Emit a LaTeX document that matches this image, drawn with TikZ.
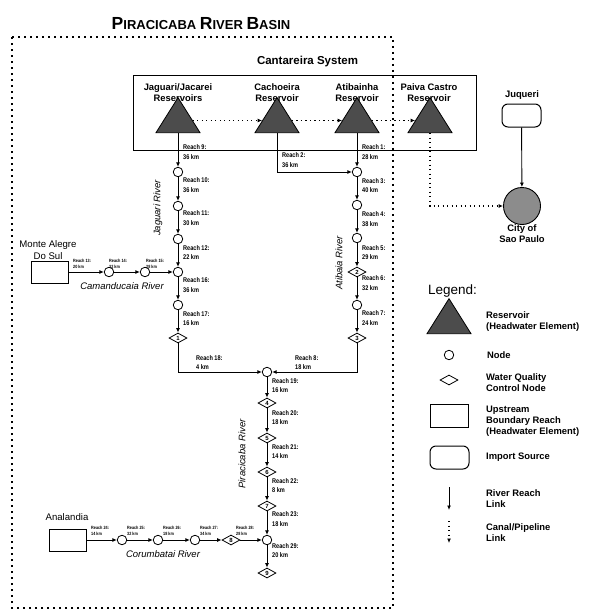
\documentclass[tikz,border=0pt]{standalone}
\usepackage{fontspec}
\setmainfont{Liberation Sans}
\newfontfamily\narrowsans[FakeStretch=0.82]{Liberation Sans}
\usetikzlibrary{shapes.geometric,arrows.meta}
\begin{document}
\begin{tikzpicture}[x=1pt,y=-1pt,
 river/.style={line width=0.9pt,-{Latex[length=4.5pt,width=4pt]}},
 canal/.style={line width=1.1pt,dash pattern=on 1.1pt off 3.4pt,-{Latex[length=4.5pt,width=4pt]}},
 basin/.style={line width=1.3pt,dash pattern=on 1.6pt off 4.4pt},
 res/.style={isosceles triangle,isosceles triangle stretches,shape border rotate=90,minimum width=44pt,minimum height=35pt,inner sep=0pt,draw=black,line width=0.8pt,fill=black!70},
 nd/.style={circle,draw,line width=0.8pt,fill=white,minimum size=9.5pt,inner sep=0pt},
 wq/.style={diamond,draw,line width=0.8pt,fill=white,minimum width=18pt,minimum height=10pt,inner sep=0pt,font=\fontsize{6}{6}\selectfont\bfseries},
 ub/.style={rectangle,draw,line width=1pt,minimum width=37pt,minimum height=22pt,inner sep=0pt},
 imp/.style={rectangle,rounded corners=6pt,draw,line width=1pt,minimum width=39pt,minimum height=23pt,inner sep=0pt},
 rlab/.style={anchor=west,align=left,inner sep=0pt,font=\narrowsans\fontsize{6.8}{9.5}\selectfont\bfseries},
 tlab/.style={anchor=west,align=left,inner sep=0pt,font=\narrowsans\fontsize{4.6}{6}\selectfont\bfseries},
 nlab/.style={align=center,inner sep=0pt,font=\fontsize{9.4}{11}\selectfont\bfseries},
 plab/.style={align=center,inner sep=0pt,font=\fontsize{9.6}{12}\selectfont},
 rname/.style={inner sep=0pt,font=\fontsize{9.5}{11}\selectfont\itshape},
 leg/.style={anchor=west,align=left,inner sep=0pt,font=\fontsize{9.4}{11}\selectfont\bfseries},
]
\useasboundingbox[fill=white] (0,0) rectangle (590,610);

% basin border
\draw[basin] (12,37) -- (393,37) -- (393,608) -- (12,608) -- cycle;
\node[inner sep=0pt,font=\bfseries] (title) at (201,24) {{\fontsize{17.5}{20}\selectfont P}{\fontsize{13}{15}\selectfont IRACICABA }{\fontsize{17.5}{20}\selectfont R}{\fontsize{13}{15}\selectfont IVER }{\fontsize{17.5}{20}\selectfont B}{\fontsize{13}{15}\selectfont ASIN}};

% Cantareira system
\node[inner sep=0pt,font=\fontsize{11.5}{13}\selectfont\bfseries] (cant) at (307.5,62) {Cantareira System};
\draw[line width=0.8pt] (133,75) rectangle (476,150);

\node[nlab] (ljag) at (178,92.5) {Jaguari/Jacarei\\Reservoirs};
\node[nlab] (lcach) at (277,92.5) {Cachoeira\\Reservoir};
\node[nlab] (latib) at (357,92.5) {Atibainha\\Reservoir};
\node[nlab] (lpaiva) at (429,92.5) {Paiva Castro\\Reservoir};

\node[res] (jag) at (178,120.5) {};
\node[res] (cach) at (277,120.5) {};
\node[res] (atib) at (357,120.5) {};
\node[res] (paiva) at (430,120.5) {};
\draw[canal] (jag) -- (cach);
\draw[canal] (cach) -- (atib);
\draw[canal] (atib) -- (paiva);

% Juqueri and City of Sao Paulo
\node[nlab] (ljuq) at (522,95) {Juqueri};
\node[imp] (juq) at (521.5,115.5) {};
\node[circle,draw,line width=0.9pt,fill=black!45,minimum size=37pt,inner sep=0pt] (city) at (522,206) {};
\node[nlab] (lcity) at (522,233.5) {City of\\Sao Paulo};
\draw[river] (juq) -- (city);
\draw[canal] (paiva) |- (city);

% Jaguari River
\node[nd] (j1) at (178,172) {};
\node[nd] (j2) at (178,206) {};
\node[nd] (j3) at (178,239) {};
\node[nd] (jc) at (178,272) {};
\node[nd] (j4) at (178,305) {};
\node[wq] (d1) at (178,338) {1};

% Camanducaia River
\node[plab] (lmas) at (48,250) {Monte Alegre\\Do Sul};
\node[ub] (mas) at (49.5,272) {};
\node[nd] (c1) at (109,272) {};
\node[nd] (c2) at (145,272) {};

% Atibaia River
\node[nd] (a1) at (357,172) {};
\node[nd] (a2) at (357,205) {};
\node[nd] (a3) at (357,238) {};
\node[wq] (d2) at (357,272) {2};
\node[nd] (a4) at (357,305) {};
\node[wq] (d3) at (357,338) {3};

% Piracicaba River
\node[nd] (p1) at (267,372) {};
\node[wq] (d4) at (267,403) {4};
\node[wq] (d5) at (267,438) {5};
\node[wq] (d6) at (267,472) {6};
\node[wq] (d7) at (267,506) {7};
\node[nd] (p2) at (267,540) {};
\node[wq] (d9) at (267,573) {9};

% Corumbatai River
\node[plab] (lana) at (67,517) {Analandia};
\node[ub] (ana) at (67.5,540) {};
\node[nd] (k1) at (122,540) {};
\node[nd] (k2) at (158,540) {};
\node[nd] (k3) at (195,540) {};
\node[wq] (d8) at (231,540) {8};

% links
\draw[river] (jag) -- (j1);
\draw[river] (j1) -- (j2);
\draw[river] (j2) -- (j3);
\draw[river] (j3) -- (jc);
\draw[river] (jc) -- (j4);
\draw[river] (j4) -- (d1);
\draw[river] (d1) |- (p1);
\draw[river] (mas) -- (c1);
\draw[river] (c1) -- (c2);
\draw[river] (c2) -- (jc);
\draw[river] (atib) -- (a1);
\draw[river] (cach) |- (a1);
\draw[river] (a1) -- (a2);
\draw[river] (a2) -- (a3);
\draw[river] (a3) -- (d2);
\draw[river] (d2) -- (a4);
\draw[river] (a4) -- (d3);
\draw[river] (d3) |- (p1);
\draw[river] (p1) -- (d4);
\draw[river] (d4) -- (d5);
\draw[river] (d5) -- (d6);
\draw[river] (d6) -- (d7);
\draw[river] (d7) -- (p2);
\draw[river] (p2) -- (d9);
\draw[river] (ana) -- (k1);
\draw[river] (k1) -- (k2);
\draw[river] (k2) -- (k3);
\draw[river] (k3) -- (d8);
\draw[river] (d8) -- (p2);

% reach labels
\node[rlab] (r9) at (183,152) {Reach 9:\\36 km};
\node[rlab] (r10) at (183,185) {Reach 10:\\36 km};
\node[rlab] (r11) at (183,218) {Reach 11:\\30 km};
\node[rlab] (r12) at (183,252.5) {Reach 12:\\22 km};
\node[rlab] (r16) at (183,285) {Reach 16:\\36 km};
\node[rlab] (r17) at (183,318.5) {Reach 17:\\16 km};
\node[rlab] (r18) at (196,362.5) {Reach 18:\\4 km};
\node[rlab] (r1) at (362,152) {Reach 1:\\28 km};
\node[rlab] (r2) at (282,160) {Reach 2:\\36 km};
\node[rlab] (r3) at (362,185.5) {Reach 3:\\40 km};
\node[rlab] (r4) at (362,219) {Reach 4:\\38 km};
\node[rlab] (r5) at (362,252.5) {Reach 5:\\29 km};
\node[rlab] (r6) at (362,283) {Reach 6:\\32 km};
\node[rlab] (r7) at (362,318) {Reach 7:\\24 km};
\node[rlab] (r8) at (295,362.5) {Reach 8:\\18 km};
\node[rlab] (r19) at (272,385.5) {Reach 19:\\16 km};
\node[rlab] (r20) at (272,417.5) {Reach 20:\\18 km};
\node[rlab] (r21) at (272,451.5) {Reach 21:\\14 km};
\node[rlab] (r22) at (272,485.5) {Reach 22:\\8 km};
\node[rlab] (r23) at (272,519) {Reach 23:\\18 km};
\node[rlab] (r29) at (272,550.5) {Reach 29:\\20 km};
\node[tlab] (r13) at (73,263.5) {Reach 13:\\20 km};
\node[tlab] (r14) at (109,263.5) {Reach 14:\\32 km};
\node[tlab] (r15) at (146,263.5) {Reach 15:\\28 km};
\node[tlab] (r24) at (91,531) {Reach 24:\\14 km};
\node[tlab] (r25) at (127,531) {Reach 25:\\32 km};
\node[tlab] (r26) at (163,531) {Reach 26:\\18 km};
\node[tlab] (r27) at (200,531) {Reach 27:\\34 km};
\node[tlab] (r28) at (236,531) {Reach 28:\\28 km};

% river names
\node[rname,rotate=90] (njag) at (158,208) {Jaguari River};
\node[rname,rotate=90] (natib) at (339,263) {Atibaia River};
\node[rname,rotate=90] (npira) at (242,454) {Piracicaba River};
\node[rname] (ncam) at (122,286) {Camanducaia River};
\node[rname] (ncor) at (163,554) {Corumbatai River};

% legend
\node[anchor=west,inner sep=0pt,font=\fontsize{13.5}{15}\selectfont] (legt) at (428,291) {Legend:};
\node[res] (lres) at (449,321.5) {};
\node[leg] (tres) at (486,321.5) {Reservoir\\(Headwater Element)};
\node[nd] (lnd) at (449,355) {};
\node[leg] (tnd) at (487,355) {Node};
\node[wq] (lwq) at (449,380) {};
\node[leg] (twq) at (486,382.5) {Water Quality\\Control Node};
\node[ub,minimum width=38pt,minimum height=23pt] (lub) at (449,415.5) {};
\node[leg] (tub) at (486,421) {Upstream\\Boundary Reach\\(Headwater Element)};
\node[imp] (limp) at (449.5,457.5) {};
\node[leg] (timp) at (486,457) {Import Source};
\coordinate (lr1) at (449,487);
\coordinate (lr2) at (449,510);
\draw[river] (lr1) -- (lr2);
\node[leg] (tr) at (486,498.5) {River Reach\\Link};
\coordinate (lc1) at (449,521);
\coordinate (lc2) at (449,543);
\draw[canal] (lc1) -- (lc2);
\node[leg] (tc) at (486,532.5) {Canal/Pipeline\\Link};
\end{tikzpicture}
\end{document}
